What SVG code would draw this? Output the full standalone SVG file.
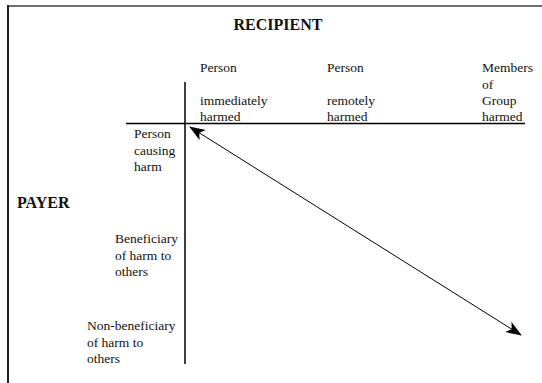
<svg xmlns="http://www.w3.org/2000/svg" width="542" height="383" viewBox="0 0 542 383">
  <style>
    text { font-family: "Liberation Serif", "Times New Roman", serif; fill: #111; }
    .lbl { font-size: 13.5px; }
    .title { font-size: 16px; font-weight: bold; }
    .axis { stroke: #000; stroke-width: 1.5; fill: none; }
    .conn { stroke: #000; stroke-width: 1; fill: none; }
  </style>
  <defs>
    <marker id="arr" viewBox="0 0 16 12" refX="15" refY="6" markerWidth="16" markerHeight="12" markerUnits="userSpaceOnUse" orient="auto-start-reverse">
      <path d="M0,0 L16,6 L0,12 L4,6 Z" fill="#000"/>
    </marker>
  </defs>
  <rect width="542" height="383" fill="#fff"/>
  <g id="frame">
    <line x1="8" y1="6" x2="542" y2="6" stroke="#6e6e6e" stroke-width="2"/>
    <line x1="8" y1="5" x2="8" y2="383" stroke="#222" stroke-width="2"/>
  </g>
  <g id="axes">
    <line class="axis" x1="185" y1="82" x2="185" y2="364"/>
    <line class="axis" x1="126" y1="123.5" x2="525" y2="123.5"/>
  </g>
  <g id="recipient"><text class="title" x="278" y="29.5" text-anchor="middle">RECIPIENT</text></g>
  <g id="payer"><text class="title" x="17" y="208">PAYER</text></g>
  <g id="col-immediate">
    <text class="lbl" x="200" y="72">Person</text>
    <text class="lbl" x="200" y="105">immediately</text>
    <text class="lbl" x="200" y="121">harmed</text>
  </g>
  <g id="col-remote">
    <text class="lbl" x="327" y="72">Person</text>
    <text class="lbl" x="327" y="105">remotely</text>
    <text class="lbl" x="327" y="121">harmed</text>
  </g>
  <g id="col-group">
    <text class="lbl" x="482" y="72">Members</text>
    <text class="lbl" x="482" y="88.5">of</text>
    <text class="lbl" x="482" y="105">Group</text>
    <text class="lbl" x="482" y="121">harmed</text>
  </g>
  <g id="row-causing">
    <text class="lbl" x="134" y="138">Person</text>
    <text class="lbl" x="134" y="154.5">causing</text>
    <text class="lbl" x="134" y="171">harm</text>
  </g>
  <g id="row-beneficiary">
    <text class="lbl" x="115" y="243">Beneficiary</text>
    <text class="lbl" x="115" y="259.5">of harm to</text>
    <text class="lbl" x="115" y="276">others</text>
  </g>
  <g id="row-nonbeneficiary">
    <text class="lbl" x="87" y="330">Non-beneficiary</text>
    <text class="lbl" x="87" y="346.5">of harm to</text>
    <text class="lbl" x="87" y="363">others</text>
  </g>
  <g id="connectors">
    <line class="conn" x1="190" y1="127" x2="521" y2="335" marker-start="url(#arr)" marker-end="url(#arr)"/>
  </g>
</svg>
